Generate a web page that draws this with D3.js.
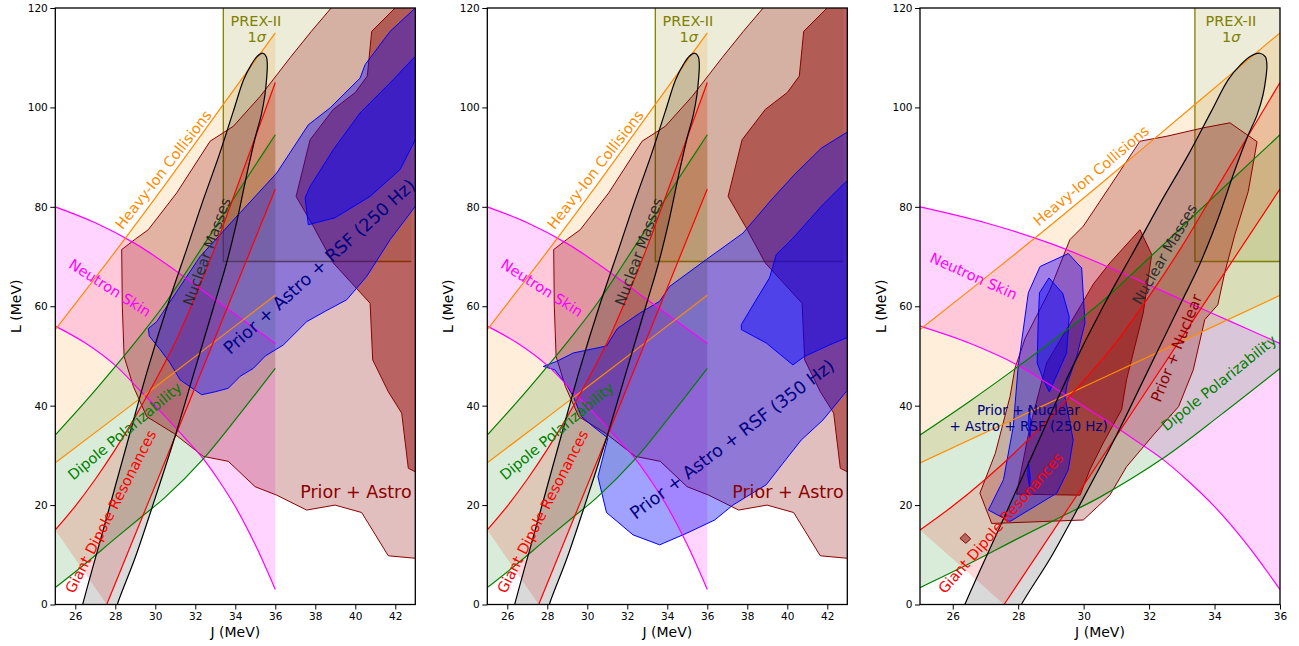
<!DOCTYPE html>
<html><head><meta charset="utf-8">
<script src="https://cdn.jsdelivr.net/npm/d3@7"></script>
<style>body{margin:0;background:#fff} svg{display:block} text{font-family:"DejaVu Sans",sans-serif}</style>
</head><body><svg id="c" width="1299" height="646"></svg>
<script>
// ---------- tick values ----------
const xTicksWide = [26,28,30,32,34,36,38,40,42];
const xTicksNarrow = [26,28,30,32,34,36];
const yTicks = [0,20,40,60,80,100,120];

// ---------- nuclear-physics constraint bands (J, L) ----------
const neutronSkinUpper = [[25,80],[27,76.8],[29,72.6],[31,67.2],[33,61.3],[34.5,56.9],[36,52.5]];
const neutronSkinLower = [[25,56],[26.5,52.6],[28,48.1],[29.2,43.2],[30.5,37.8],[31.5,33.4],[32.4,29.3],[33.2,24.8],[34,19.7],[35,12.0],[36,3]];
const heavyIonUpper = [[25,55.3],[28,71.0],[30.5,84.5],[33.4,100.6],[36,115]];
const heavyIonLower = [[25,28.5],[30.5,45.3],[36,62.2]];
const dipolePolUpper = [[25,34.1],[26.5,40.8],[27.9,47.4],[29.2,53.8],[30.5,60.6],[31.9,69.1],[33.3,77.8],[34.6,85.9],[36,94.5]];
const dipolePolLower = [[25,3.4],[26.5,8.2],[28,13.3],[29.3,17.6],[30.5,21.6],[32.4,29.3],[34.2,38.2],[36,47.5]];
const gdrUpper = [[25,15],[26,19.8],[27,25.2],[28,31.2],[29,37.8],[30,45],[31,52.8],[32,62],[33,72],[34,83],[35,94],[36,105]];
const gdrLower = [[27.57,0],[31.8,41.8],[36,83.6]];
const nuclearMasses = [[26.2,-3],[26.37,0],[27.5,16.5],[28.7,34],[29.6,47],[30.6,60],[31.57,71.5],[32.38,81.2],[33.2,90.5],[33.9,99.2],[34.42,105.6],[34.8,108.6],[35.1,110.3],[35.38,110.9],[35.55,110.2],[35.6,108.5],[35.57,106],[35.48,102.5],[35.3,98.5],[35.0,94],[34.6,87],[34.1,77.5],[33.55,68.5],[33.0,61],[32.0,47.5],[31.0,34],[30.0,21.5],[29.0,9.5],[28.1,0],[27.9,-3]];
const prexJ = [33.4, 42.8];
const prexL = [69, 143];

// ---------- posterior contours (J, L) ----------
const priorAstroOuter = [[28.32,71.4],[29.0,73.5],[29.65,75.4],[31.07,82.8],[32.74,93.2],[33.9,96.2],[35.24,102.2],[36.74,110],[37.8,115.3],[38.9,120.5],[39.5,124],[45,124],[45,9.3],[43,9.3],[41.65,9.8],[40.32,18.5],[38.99,20.0],[37.57,19.0],[36.07,22.0],[34.99,23.7],[33.65,28.8],[32.4,29.8],[30.9,34.5],[29.57,37.8],[28.9,43.9],[28.44,49.9],[28.35,60]];
const priorAstroInner = [[41.99,120],[42.3,124],[45,124],[45,26.7],[43,26.7],[42.65,27.4],[42.32,38.5],[41.65,42.8],[40.87,49.2],[40.74,60.6],[38.9,68.7],[37.9,76.1],[37.04,82.1],[37.74,93.5],[38.9,99.6],[40.0,103],[40.6,106.3],[40.82,115.3]];
const rsf250Outer = [[29.65,55.5],[30.07,56.9],[32.24,70],[34.24,78.8],[36.07,86.8],[37.65,96.5],[38.74,99.9],[40.24,105.9],[40.49,108.6],[41.74,115.3],[43,120],[45,122],[45,81],[43,80.1],[41.74,73.4],[40.57,66],[39.57,61.3],[38.5,59],[37.57,56.9],[36.4,52.2],[35.5,50],[34.9,47.5],[34.24,45.9],[33.65,43.5],[33.0,42.8],[32.32,42.2],[31.24,45.2],[30.74,48.6],[30.2,51.5],[29.7,54]];
const rsf250Inner = [[37.49,81.8],[37.65,76.4],[38.99,77.8],[40.74,82.1],[42.24,87.5],[43,93.5],[45,95],[45,111],[43,110.3],[41.9,105.6],[40.24,98.9],[38.9,91.5],[37.74,84.1]];
const rsf350Outer = [[42.94,94.9],[41.7,91.8],[40.36,86.5],[39.2,81.4],[37.78,74.7],[35.95,69.4],[34.12,64.0],[33.62,61.0],[32.62,58.6],[31.5,55.5],[30.96,52.0],[29.3,50.6],[28.46,48.9],[27.8,47.9],[28.38,47.2],[28.96,44.2],[29.3,41.8],[29.71,37.8],[30.29,35.8],[31.03,33.5],[30.53,25.7],[30.96,18.5],[32.29,14.0],[33.62,12.0],[34.95,14.3],[36.37,17.0],[37.28,20.0],[38.95,24.1],[39.78,28.4],[40.7,33.1],[41.78,37.1],[42.94,42.8],[45,44],[45,96]];
const rsf350Inner = [[42.94,85.1],[41.7,80.1],[40.28,73.7],[39.45,70.4],[39.11,65.7],[38.4,61],[37.7,56.3],[37.7,55.3],[38.95,52.6],[40.28,48.2],[40.86,49.9],[42.1,52.2],[42.94,53.6],[45,54],[45,86]];
const priorNuclearOuter = [[26.83,22.4],[27.3,30.4],[27.75,41.8],[27.9,47.5],[28.21,53.5],[28.97,63.3],[29.58,73.4],[29.99,76.1],[30.8,84.1],[31.72,93.2],[32.54,94.2],[33.66,95.9],[34.47,96.9],[35.3,93.1],[35.03,83.1],[34.62,74.4],[34.32,67.0],[34.1,60.3],[33.7,57.3],[33.35,47.2],[32.9,39.8],[32.13,34.1],[31.31,27.7],[30.8,22.0],[29.99,17.0],[27.19,16.3]];
const priorNuclearInner = [[27.95,22.2],[28.36,35.8],[28.87,48.6],[29.9,60],[30.3,64.5],[30.8,68.7],[31.72,75.4],[32.08,70.4],[31.82,58.6],[31.31,45.2],[31.16,39.2],[30.6,32.5],[30.19,27.1],[29.89,22.0]];
const priorNuclearIsland = [[26.22,13.3],[26.38,14.3],[26.55,13.2],[26.4,12.3]];
const rsfNuclearOuter = [[29.53,70.6],[29.94,67.7],[30.04,56.6],[29.79,49.9],[29.5,44.5],[29.43,41.8],[29.68,33.1],[29.53,27.1],[29.18,22.4],[27.75,16.7],[27.09,19.0],[27.55,25.1],[27.85,35.8],[28.0,47.9],[28.31,62.7],[28.67,68.0]];
const rsfNuclearInner = [[28.94,65.7],[29.36,62.6],[29.56,57.9],[29.48,50.6],[28.95,42.8],[28.77,45.2],[28.58,48.6],[28.61,56.6],[28.65,62.7]];
const rsfNuclearSliverA = [[28.33,39.5],[28.39,36.5],[28.36,33.5],[28.31,36.5]];
const rsfNuclearSliverB = [[28.31,28.8],[28.37,25.5],[28.35,23.5],[28.29,25.8]];

// ---------- annotation texts (J, L, angle) ----------
const labelsAstro = [
  {t:"PREX-II", J:35.03, L:117.4, a:0, c:"#808000", s:14.5},
  {t:"1σ", J:35.07, L:114.2, a:0, c:"#808000", s:14.5, sig:true},
  {t:"Heavy-Ion Collisions", J:30.4, L:87.5, a:-52, c:"#ff8c00", s:14.5},
  {t:"Nuclear Masses", J:32.57, L:71.0, a:-70, c:"#2b2b2b", s:14.5},
  {t:"Neutron Skin", J:27.74, L:63.7, a:32.5, c:"#ff00ff", s:14.5},
  {t:"Dipole Polarizability", J:28.47, L:34.9, a:-39.8, c:"#008000", s:14.5},
  {t:"Giant Dipole Resonances", J:27.76, L:18.7, a:-62.7, c:"#ff0000", s:14.5},
  {t:"Prior + Astro", J:40.03, L:22.7, a:0, c:"#8b0000", s:17.5}
];
const label250 = {t:"Prior + Astro + RSF (250 Hz)", J:38.19, L:68.0, a:-42.1, c:"#000080", s:17.5};
const label350 = {t:"Prior + Astro + RSF (350 Hz)", J:37.23, L:33.3, a:-37.2, c:"#000080", s:17.5};
const labelsNuclear = [
  {t:"PREX-II", J:34.50, L:117.4, a:0, c:"#808000", s:14.5},
  {t:"1σ", J:34.51, L:114.2, a:0, c:"#808000", s:14.5, sig:true},
  {t:"Heavy-Ion Collisions", J:30.23, L:86.3, a:-40.3, c:"#ff8c00", s:14.5},
  {t:"Neutron Skin", J:26.64, L:66.1, a:24.2, c:"#ff00ff", s:14.5},
  {t:"Nuclear Masses", J:32.47, L:70.5, a:-59.7, c:"#2b2b2b", s:14.5},
  {t:"Prior + Nuclear", J:32.83, L:51.6, a:-68.4, c:"#8b0000", s:15},
  {t:"Dipole Polarizability", J:34.13, L:44.6, a:-38.9, c:"#008000", s:14.5},
  {t:"Giant Dipole Resonances", J:27.46, L:16.4, a:-48.9, c:"#ff0000", s:14.5},
  {t:"Prior + Nuclear", J:28.31, L:39.2, a:0, c:"#000080", s:13.5},
  {t:"+ Astro + RSF (250 Hz)", J:28.32, L:35.9, a:0, c:"#000080", s:13.5}
];

const panels = [
  {x0:55.3, xmax:43, ticks:xTicksWide, prior:[priorAstroOuter, priorAstroInner], rsf:[rsf250Outer, rsf250Inner], extra:[], labels:labelsAstro.concat([label250])},
  {x0:487.3, xmax:43, ticks:xTicksWide, prior:[priorAstroOuter, priorAstroInner], rsf:[rsf350Outer, rsf350Inner], extra:[], labels:labelsAstro.concat([label350])},
  {x0:920, xmax:36, ticks:xTicksNarrow, prior:[priorNuclearOuter, priorNuclearInner, priorNuclearIsland], rsf:[rsfNuclearOuter, rsfNuclearInner], extra:[rsfNuclearSliverA, rsfNuclearSliverB], labels:labelsNuclear}
];

const svg = d3.select("#c");
const W = 360, YB = 604.5, YT = 8;
const defs = svg.append("defs");

panels.forEach((p, i) => {
  const x = d3.scaleLinear().domain([25, p.xmax]).range([p.x0, p.x0 + W]);
  const y = d3.scaleLinear().domain([0, 120]).range([YB, YT]);
  defs.append("clipPath").attr("id", "clip" + i).append("rect")
    .attr("x", p.x0).attr("y", YT).attr("width", W).attr("height", YB - YT);
  const g = svg.append("g").attr("clip-path", `url(#clip${i})`);

  const smooth = d3.line().x(d => x(d[0])).y(d => y(d[1])).curve(d3.curveCatmullRom.alpha(0.5));
  const poly = d3.line().x(d => x(d[0])).y(d => y(d[1])).curve(d3.curveLinearClosed);
  const band = (up, lo) => smooth(up) + "L" + smooth(lo.slice().reverse()).slice(1) + "Z";
  const nuclearPath = smooth(nuclearMasses) + "Z";

  const bands = [
    [neutronSkinUpper, neutronSkinLower, "255,0,255", 0.17, "#ff00ff"],
    [heavyIonUpper, heavyIonLower, "255,140,0", 0.15, "#ff8c00"],
    [dipolePolUpper, dipolePolLower, "0,128,0", 0.15, "#008000"],
    [gdrUpper, gdrLower, "255,0,0", 0.15, "#ff0000"]
  ];
  bands.forEach(b => g.append("path").attr("d", band(b[0], b[1])).attr("fill", `rgba(${b[2]},${b[3]})`).attr("stroke", "none"));

  // PREX-II box (fill + left and bottom edges)
  g.append("rect").attr("x", x(prexJ[0])).attr("y", y(prexL[1]))
    .attr("width", x(prexJ[1]) - x(prexJ[0])).attr("height", y(prexL[0]) - y(prexL[1]))
    .attr("fill", "rgba(128,128,0,0.15)").attr("stroke", "none");
  g.append("path").attr("d", d3.line()([[x(prexJ[0]), y(prexL[1])], [x(prexJ[0]), y(prexL[0])], [x(prexJ[1]), y(prexL[0])]]))
    .attr("fill", "none").attr("stroke", "#808000").attr("stroke-width", 1.3);

  // nuclear masses
  g.append("path").attr("d", nuclearPath).attr("fill", "rgba(0,0,0,0.15)").attr("stroke", "none");

  // posterior contours
  const priorA = [0.25, 0.48, 0.48];
  p.prior.forEach((c, k) => g.append("path").attr("d", poly(c))
    .attr("fill", `rgba(139,0,0,${priorA[k]})`).attr("stroke", "#8b0000").attr("stroke-width", 1).attr("stroke-linejoin", "round"));
  const rsfA = [0.37, 0.45];
  p.rsf.forEach((c, k) => g.append("path").attr("d", poly(c))
    .attr("fill", `rgba(0,0,255,${rsfA[k]})`).attr("stroke", "#0000ff").attr("stroke-width", 1).attr("stroke-linejoin", "round"));
  p.extra.forEach(c => g.append("path").attr("d", poly(c))
    .attr("fill", "rgba(0,0,255,0.6)").attr("stroke", "#0000ff").attr("stroke-width", 0.8));

  // band edge lines
  bands.forEach(b => {
    [b[0], b[1]].forEach(ln => g.append("path").attr("d", smooth(ln)).attr("fill", "none").attr("stroke", b[4]).attr("stroke-width", 1.2));
  });
  g.append("path").attr("d", nuclearPath).attr("fill", "none").attr("stroke", "#000").attr("stroke-width", 1.2);

  // axes
  const ax = svg.append("g").attr("transform", `translate(0,${YB})`)
    .call(d3.axisBottom(x).tickValues(p.ticks).tickFormat(d3.format("d")).tickSize(5).tickPadding(3));
  const ay = svg.append("g").attr("transform", `translate(${p.x0},0)`)
    .call(d3.axisLeft(y).tickValues(yTicks).tickFormat(d3.format("d")).tickSize(5).tickPadding(2.5));
  [ax, ay].forEach(a => {
    a.select(".domain").remove();
    a.selectAll("text").attr("font-size", "10.5px").attr("font-family", "DejaVu Sans").attr("fill", "#000");
    a.selectAll("line").attr("stroke", "#000").attr("stroke-width", 1);
  });
  svg.append("rect").attr("x", p.x0).attr("y", YT).attr("width", W).attr("height", YB - YT)
    .attr("fill", "none").attr("stroke", "#000").attr("stroke-width", 1.3);

  svg.append("text").attr("x", p.x0 + W / 2).attr("y", 637).attr("text-anchor", "middle")
    .attr("font-size", "14px").text("J (MeV)");
  svg.append("text").attr("transform", `translate(${p.x0 - 34},${(YB + YT) / 2}) rotate(-90)`)
    .attr("text-anchor", "middle").attr("font-size", "14px").text("L (MeV)");

  // annotations
  p.labels.forEach(l => {
    const t = svg.append("text").attr("transform", `translate(${x(l.J)},${y(l.L)}) rotate(${l.a})`)
      .attr("text-anchor", "middle").attr("dy", "0.36em").attr("font-size", l.s + "px").attr("fill", l.c);
    if (l.sig) { t.append("tspan").text("1"); t.append("tspan").attr("font-style", "italic").text("σ"); }
    else t.text(l.t);
  });
});
</script></body></html>
